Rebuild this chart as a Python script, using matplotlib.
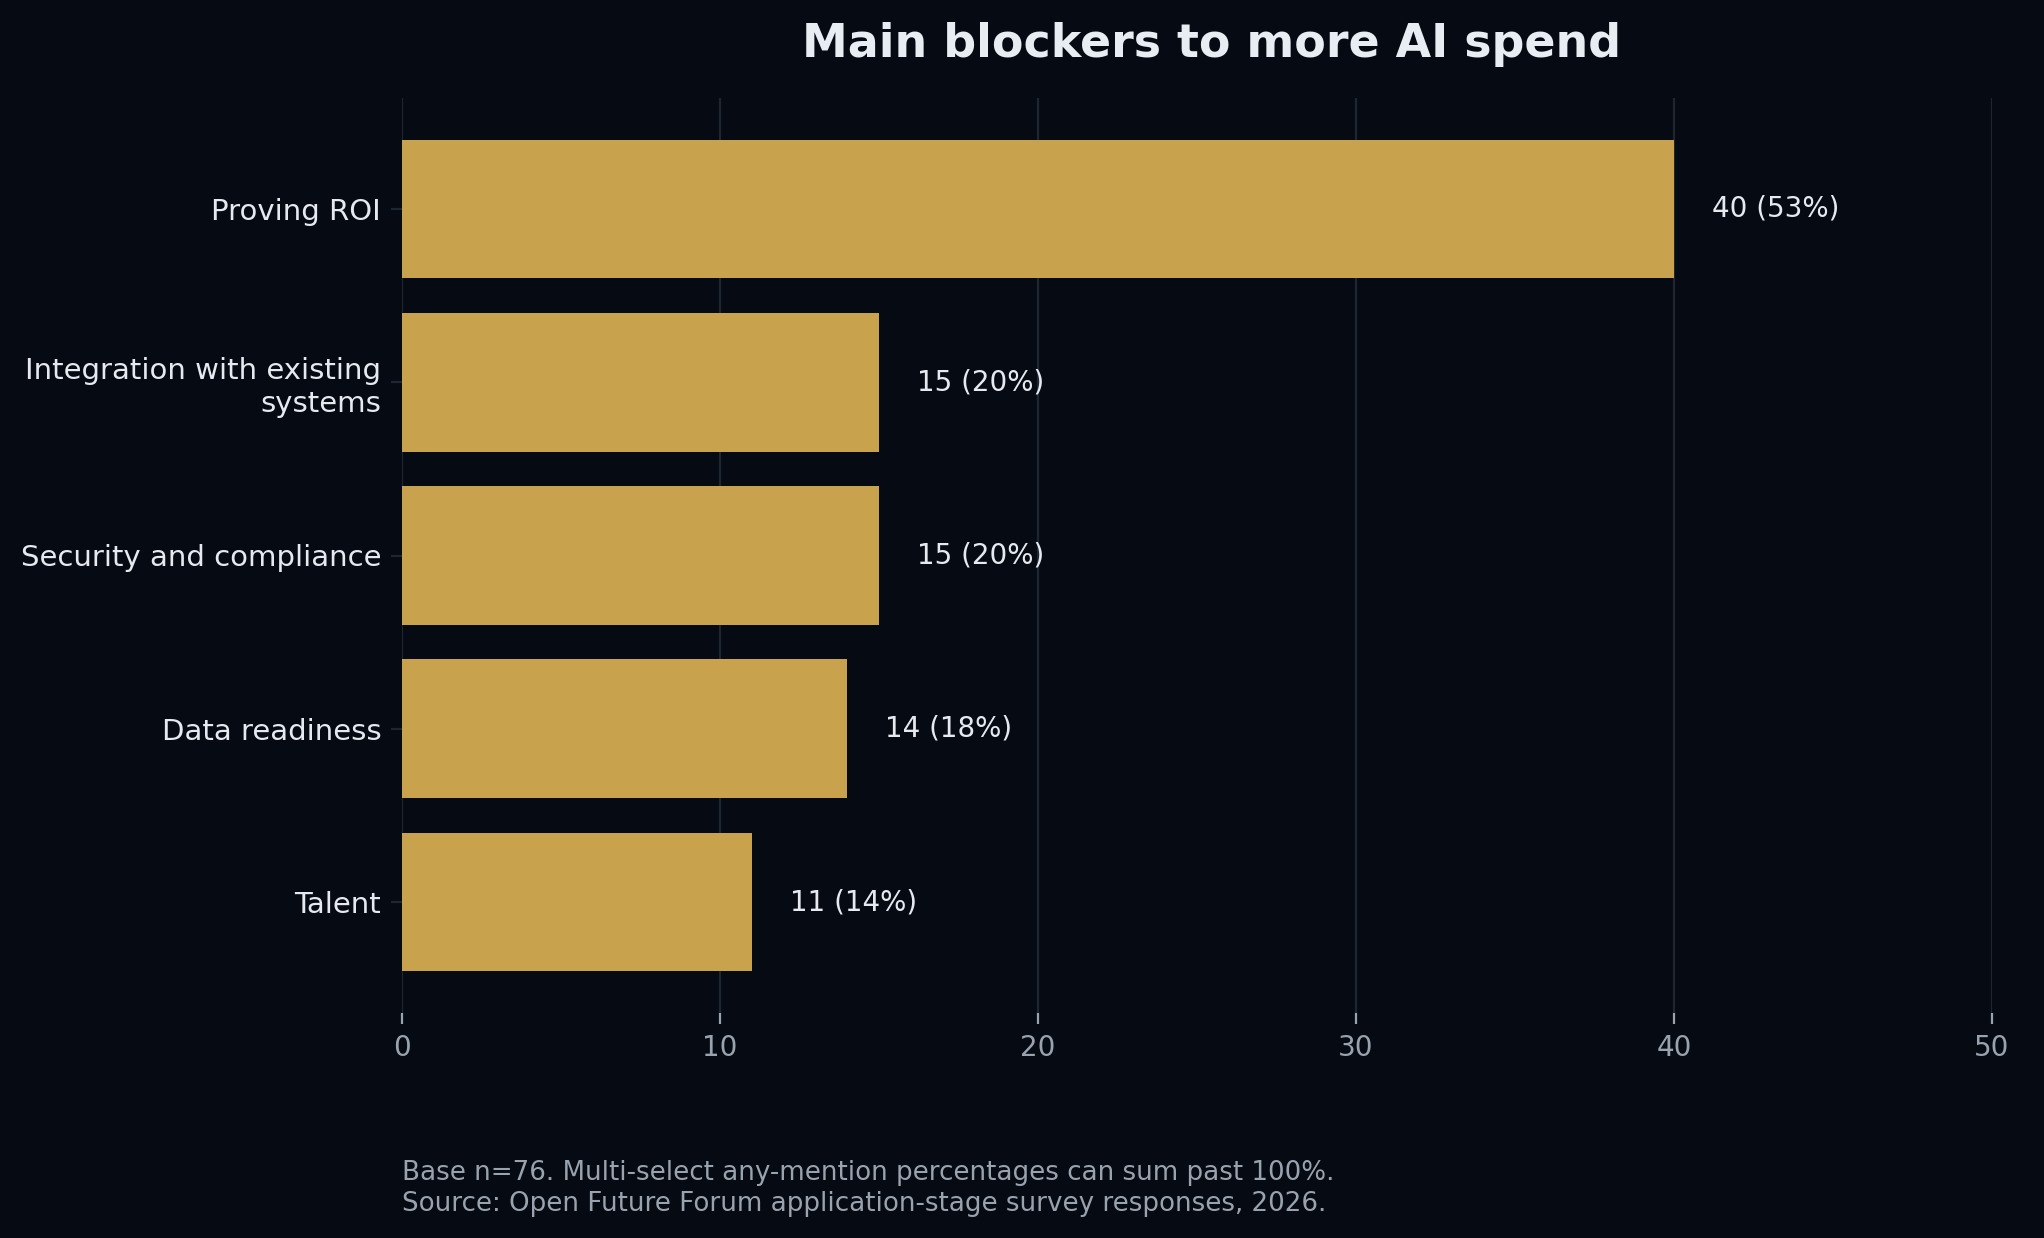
import matplotlib
matplotlib.use("Agg")
import matplotlib.pyplot as plt

categories = ["Proving ROI", "Integration with existing\nsystems", "Security and compliance",
              "Data readiness", "Talent"]
counts = [40, 15, 15, 14, 11]
percents = [53, 20, 20, 18, 14]
x_ticks = [0, 10, 20, 30, 40, 50]
title = "Main blockers to more AI spend"
footnote = ("Base n=76. Multi-select any-mention percentages can sum past 100%.\n"
            "Source: Open Future Forum application-stage survey responses, 2026.")

BG = "#060a12"
BAR = "#c9a24d"
GRID = "#1e2631"
TEXT = "#e6e9ef"
MUTED = "#9aa2ad"

plt.rcParams['font.family'] = ['DejaVu Sans']

fig = plt.figure(figsize=(10.22, 6.19), dpi=200, facecolor=BG)
ax = fig.add_axes([402/2044, 1-1013/1238, (1992-402)/2044, (1013-98)/1238])
ax.set_facecolor(BG)

ypos = list(range(len(categories)))
ax.barh(ypos, counts, height=0.8, color=BAR, zorder=3)
ax.invert_yaxis()
ax.set_yticks(ypos)
ax.set_yticklabels(categories, fontsize=10.5, color=TEXT)
ax.set_xlim(0, 50)
ax.set_xticks(x_ticks)
ax.set_xticklabels([str(t) for t in x_ticks], fontsize=10, color=MUTED)

for y, c, p in zip(ypos, counts, percents):
    ax.text(c + 1.2, y, f"{c} ({p}%)", va="center", ha="left", fontsize=10, color=TEXT, zorder=4)

ax.grid(axis="x", color=GRID, linewidth=0.8, zorder=0)
ax.grid(axis="y", visible=False)
for s in ax.spines.values():
    s.set_visible(False)
ax.tick_params(axis="y", length=4, width=0.8, color=GRID, pad=3.5)
ax.tick_params(axis="x", length=4, width=0.8, color=MUTED, pad=3.5)

fig.text(1212/2044, 1-57/1238, title, ha="center", va="baseline",
         fontsize=16.5, fontweight="bold", color="#e8ecf3")
fig.text(402/2044, 1-1211/1238, footnote, ha="left", va="baseline",
         fontsize=9.4, color=MUTED, linespacing=1.245)

fig.savefig("out.png", dpi=200, facecolor=BG)
